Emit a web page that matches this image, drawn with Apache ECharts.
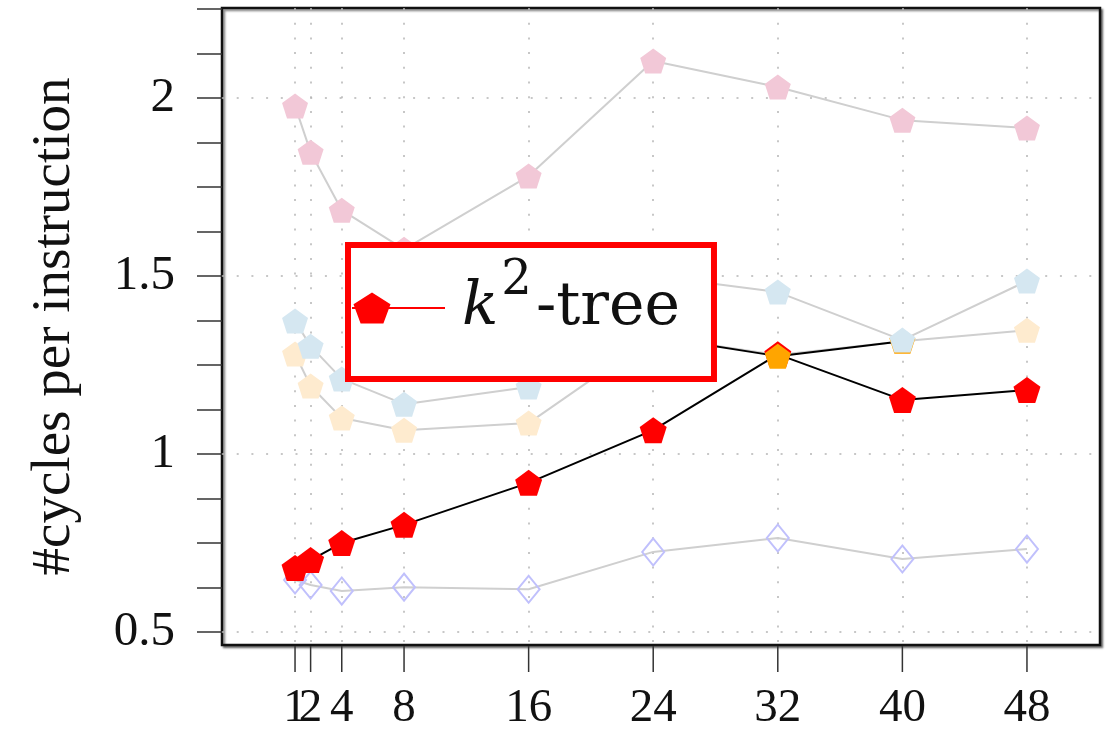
<!DOCTYPE html>
<html>
<head>
<meta charset="utf-8">
<script src="https://cdn.jsdelivr.net/npm/echarts@6/dist/echarts.min.js"></script>
<style>
    html, body { margin: 0; padding: 0; background: #fff; }
    #chart { width: 1112px; height: 734px; }
</style>
</head>
<body>
<div id="chart"></div>
<script>
    // thread counts on the x axis
    var threads = [1, 2, 4, 8, 16, 24, 32, 40, 48];
    var yTicks = [0.5, 0.625, 0.75, 0.875, 1, 1.125, 1.25, 1.375, 1.5, 1.625, 1.75, 1.875, 2, 2.125, 2.25];
    var yLabels = [0.5, 1, 1.5, 2];

    // cycles per instruction
    var pinkVals    = [1.978, 1.848, 1.685, 1.575, 1.781, 2.104, 2.031, 1.938, 1.916];
    var blueVals    = [1.374, 1.303, 1.211, 1.140, 1.188, 1.500, 1.455, 1.320, 1.486];
    var yellowVals  = [1.281, 1.191, 1.101, 1.067, 1.087, 1.330, 1.278, 1.317, 1.348];
    var orangeVals  = ['-', '-', '-', '-', '-', 1.330, 1.275, 1.317, '-'];
    var k2treeVals  = [0.680, 0.702, 0.750, 0.801, 0.919, 1.067, 1.280, 1.152, 1.180];
    var diamondVals = [0.646, 0.632, 0.615, 0.626, 0.620, 0.725, 0.764, 0.705, 0.733];

    var yMin = 0.4635, yMax = 2.253;
    var pentagon = 'path://M18.5,0L37,11.8L29.9,31L7.1,31L0,11.8Z';
    // pentagon with a line through it, for the legend
    var legendIcon = 'path://M20,0L38.5,11.8L31.4,31L8.6,31L1.5,11.8Z M0,14.5L93,14.5L93,16.5L0,16.5Z';
    var serif = 'Liberation Serif';

    function pairs(vals) {
        return threads.map(function (t, i) { return [t, vals[i]]; });
    }

    function faded(name, vals, color) {
        return {
            name: name,
            type: 'line',
            data: pairs(vals),
            symbol: pentagon,
            symbolSize: [26, 25],
            itemStyle: { color: color },
            lineStyle: { color: '#cfcfcf', width: 2 },
            silent: true
        };
    }

    // x ticks + labels drawn below the frame (the axis' own ones get dropped when 1 and 2 collide)
    function renderXTick(params, api) {
        var t = api.value(0);
        var p = api.coord([t, yMin]);
        return {
            type: 'group',
            children: [{
                type: 'line',
                shape: { x1: p[0], y1: p[1] + 1, x2: p[0], y2: p[1] + 27 },
                style: { stroke: '#333', lineWidth: 1.5 }
            }, {
                type: 'text',
                x: p[0], y: p[1] + 64,
                style: {
                    text: String(t),
                    fontFamily: serif, fontSize: 47, fill: '#111',
                    align: 'center', verticalAlign: 'middle'
                }
            }]
        };
    }

    var myChart = echarts.init(document.getElementById('chart'));
    var option = {
        animation: false,
        backgroundColor: '#fff',
        grid: {
            left: 222, right: 12, top: 8, bottom: 89,
            show: true,
            borderColor: '#111',
            borderWidth: 2.5,
            backgroundColor: '#fff',
            shadowColor: 'rgba(0,0,0,0.45)',
            shadowBlur: 2,
            shadowOffsetX: 2,
            shadowOffsetY: 2,
            outerBoundsMode: 'none'
        },
        legend: {
            data: ['k²-tree'],
            left: 348, top: 245,
            orient: 'horizontal',
            icon: legendIcon,
            itemWidth: 93, itemHeight: 31,
            padding: [13, 34, 41, 4],
            backgroundColor: '#fff',
            borderColor: '#ff0000',
            borderWidth: 6,
            borderRadius: 0,
            selectedMode: false,
            formatter: function () { return '{k|k}{s|2}{t|-tree}'; },
            textStyle: {
                color: '#111',
                rich: {
                    k: { fontFamily: 'DejaVu Serif', fontStyle: 'italic', fontSize: 60, lineHeight: 100, padding: [0, 0, 0, 12] },
                    s: { fontFamily: 'DejaVu Serif', fontSize: 48, verticalAlign: 'top', padding: [0, 4, 0, 3] },
                    t: { fontFamily: 'DejaVu Serif', fontSize: 60, lineHeight: 100 }
                }
            }
        },
        xAxis: {
            type: 'value',
            min: -3.69,
            max: 52.69,
            axisLine: { show: false, onZero: false },
            axisTick: { show: false, customValues: threads },
            axisLabel: { show: false },
            splitLine: {
                show: true,
                lineStyle: { color: '#b5b5b5', width: 1.5, type: [2, 12.7] }
            }
        },
        yAxis: [{
            type: 'value',
            min: yMin,
            max: yMax,
            axisLine: { show: false, onZero: false },
            axisTick: {
                show: true, inside: false, length: 25,
                customValues: yTicks,
                lineStyle: { color: '#333', width: 1.5 }
            },
            axisLabel: {
                customValues: yLabels,
                hideOverlap: false,
                fontFamily: serif, fontSize: 49, color: '#111', margin: 47
            },
            splitLine: { show: false },
            name: '#cycles per instruction',
            nameLocation: 'middle',
            nameRotate: 90,
            nameGap: 140,
            nameMoveOverlap: false,
            nameTextStyle: { fontFamily: serif, fontSize: 55, color: '#111' }
        }, {
            // second axis only carries the horizontal dotted grid
            type: 'value',
            min: yMin,
            max: yMax,
            position: 'left',
            axisLine: { show: false, onZero: false },
            axisTick: { show: false, customValues: yLabels },
            axisLabel: { show: false, customValues: yLabels },
            splitLine: {
                show: true,
                lineStyle: { color: '#b5b5b5', width: 1.5, type: [2, 12.7] }
            }
        }],
        series: [
            {
                name: 'xticks',
                type: 'custom',
                data: threads.map(function (t) { return [t]; }),
                renderItem: renderXTick,
                clip: false,
                silent: true,
                z: 1
            },
            faded('pink', pinkVals, '#f2c8d7'),
            faded('yellow', yellowVals, '#feebcf'),
            {
                name: 'diamond',
                type: 'line',
                data: pairs(diamondVals),
                symbol: 'diamond',
                symbolSize: [22, 27],
                itemStyle: { color: 'rgba(0,0,0,0)', borderColor: '#c0c0fc', borderWidth: 2 },
                lineStyle: { color: '#cfcfcf', width: 2 },
                silent: true
            },
            {
                name: 'k²-tree',
                type: 'line',
                data: pairs(k2treeVals),
                symbol: pentagon,
                symbolSize: [27, 26],
                itemStyle: { color: '#ff0000' },
                lineStyle: { color: '#000', width: 2 },
                silent: true
            },
            {
                name: 'orange',
                type: 'line',
                data: pairs(orangeVals),
                symbol: pentagon,
                symbolSize: [26, 25],
                itemStyle: { color: '#ffa500' },
                lineStyle: { color: '#000', width: 2 },
                silent: true
            },
            faded('blue', blueVals, '#d5e7f1')
        ]
    };
    myChart.setOption(option, true);
</script>
</body>
</html>
